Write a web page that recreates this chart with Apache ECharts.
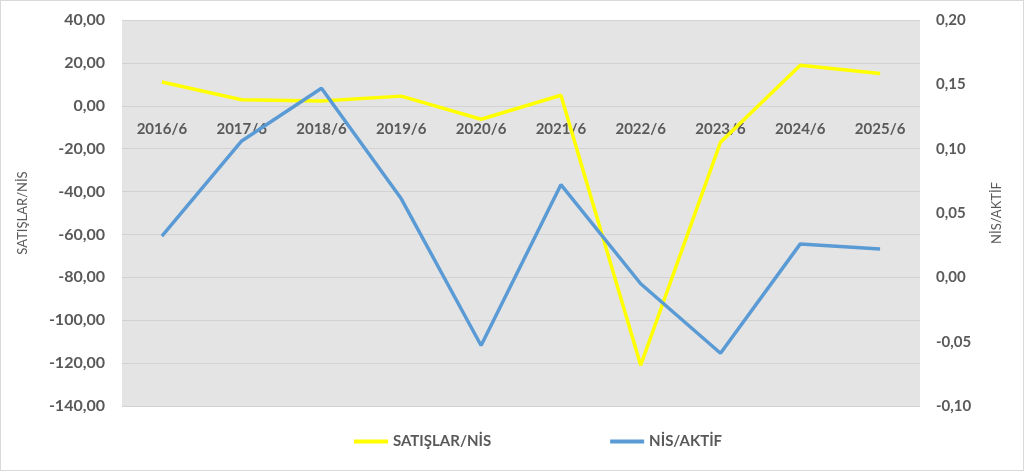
<!DOCTYPE html>
<html>
<head>
<meta charset="utf-8">
<script src="https://cdn.jsdelivr.net/npm/echarts@6/dist/echarts.min.js"></script>
<style>
html, body { margin: 0; padding: 0; background: #fff; }
#chart { width: 1022px; height: 469px; border: 1px solid #d9d9d9; }
</style>
</head>
<body>
<div id="chart"></div>
<script>
var years = ['2016/6', '2017/6', '2018/6', '2019/6', '2020/6', '2021/6', '2022/6', '2023/6', '2024/6', '2025/6'];
var satislarNis = [11.1, 2.8, 2.2, 4.5, -6.3, 4.9, -121.0, -17.0, 18.9, 15.0];
var nisAktif = [0.032, 0.106, 0.147, 0.061, -0.053, 0.072, -0.005, -0.059, 0.026, 0.022];

var dom = document.getElementById('chart');
var myChart = echarts.init(dom);
window.onresize = function () {
	myChart.resize();
};

function comma(v) {
	return v.toFixed(2).replace('.', ',');
}

var textGray = '#595959';
var font = 'Lato';

var option = {
	animation: false,
	textStyle: { fontFamily: font },
	grid: {
		left: 121, right: 103, top: 19, bottom: 64,
		show: true, backgroundColor: '#e4e4e4', borderWidth: 0
	},
	legend: {
		bottom: 16,
		left: 348,
		itemGap: 119,
		itemWidth: 34,
		itemHeight: 4,
		icon: 'rect',
		textStyle: { color: textGray, fontSize: 15, fontWeight: 'bold', fontFamily: font },
		data: ['SATIŞLAR/NİS', 'NİS/AKTİF']
	},
	xAxis: {
		type: 'category',
		data: years,
		boundaryGap: true,
		position: 'bottom',
		// labels sit under the zero line of the left axis, as in the source
		offset: -300,
		axisLine: { show: false, onZero: false },
		axisTick: { show: false },
		axisLabel: { color: textGray, fontSize: 15, fontWeight: 'bold', margin: 16, interval: 0 },
		splitLine: { show: false }
	},
	yAxis: [
		{
			type: 'value',
			min: -140, max: 40, interval: 20,
			name: 'SATIŞLAR/NİS',
			nameLocation: 'middle',
			nameGap: 93,
			nameTextStyle: { color: textGray, fontSize: 13, fontFamily: font },
			axisLine: { show: false },
			axisTick: { show: false },
			axisLabel: { color: textGray, fontSize: 16, fontWeight: 'bold', margin: 17, formatter: comma },
			splitLine: { lineStyle: { color: '#d2d2d2', width: 1 } }
		},
		{
			type: 'value',
			min: -0.1, max: 0.2, interval: 0.05,
			name: 'NİS/AKTİF',
			nameLocation: 'middle',
			nameGap: 70,
			nameTextStyle: { color: textGray, fontSize: 13, fontFamily: font },
			axisLine: { show: false },
			axisTick: { show: false },
			axisLabel: { color: textGray, fontSize: 15, fontWeight: 'bold', margin: 16, formatter: comma },
			splitLine: { show: false }
		}
	],
	series: [
		{
			name: 'SATIŞLAR/NİS',
			type: 'line',
			yAxisIndex: 0,
			data: satislarNis,
			symbol: 'none',
			color: '#ffff00',
			lineStyle: { color: '#ffff00', width: 3.5 }
		},
		{
			name: 'NİS/AKTİF',
			type: 'line',
			yAxisIndex: 1,
			data: nisAktif,
			symbol: 'none',
			color: '#5b9bd5',
			lineStyle: { color: '#5b9bd5', width: 3.5 }
		}
	]
};

myChart.setOption(option, true);
</script>
</body>
</html>
